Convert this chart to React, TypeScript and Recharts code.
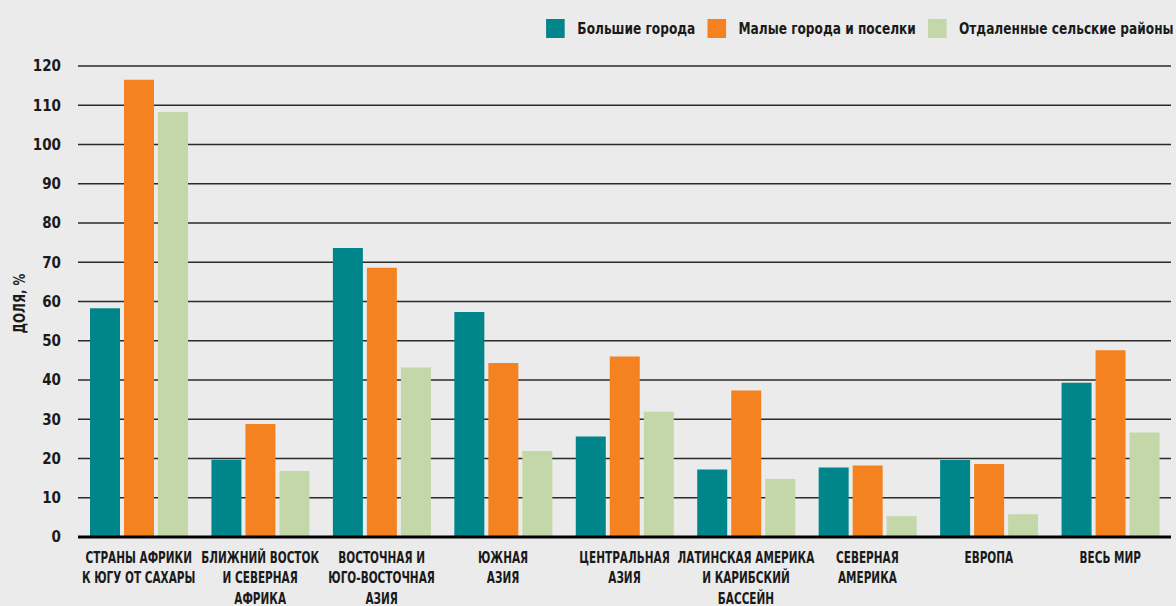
import React from 'react';
import { BarChart, Bar, XAxis, YAxis, CartesianGrid, Label } from 'recharts';

const regions = [
  'СТРАНЫ АФРИКИ\nК ЮГУ ОТ САХАРЫ',
  'БЛИЖНИЙ ВОСТОК\nИ СЕВЕРНАЯ\nАФРИКА',
  'ВОСТОЧНАЯ И\nЮГО-ВОСТОЧНАЯ\nАЗИЯ',
  'ЮЖНАЯ\nАЗИЯ',
  'ЦЕНТРАЛЬНАЯ\nАЗИЯ',
  'ЛАТИНСКАЯ АМЕРИКА\nИ КАРИБСКИЙ\nБАССЕЙН',
  'СЕВЕРНАЯ\nАМЕРИКА',
  'ЕВРОПА',
  'ВЕСЬ МИР',
];

const bigCities = [58.3, 19.7, 73.6, 57.3, 25.6, 17.2, 17.7, 19.6, 39.3];
const smallTowns = [116.5, 28.8, 68.6, 44.3, 46, 37.3, 18.2, 18.6, 47.6];
const remoteRural = [108.3, 16.8, 43.2, 21.9, 31.9, 14.8, 5.3, 5.8, 26.6];

const yTicks = [0, 10, 20, 30, 40, 50, 60, 70, 80, 90, 100, 110, 120];

const seriesNames = ['Большие города', 'Малые города и поселки', 'Отдаленные сельские районы'];
const colors = ['#00868A', '#F58220', '#C4D7A9'];

// no condensed Myriad here, so squeeze DejaVu horizontally
const FONT = '"DejaVu Sans Condensed", "DejaVu Sans", sans-serif';
const INK = '#1a1a1a';

const data = regions.map((region, i) => ({
  region,
  big: bigCities[i],
  small: smallTowns[i],
  rural: remoteRural[i],
}));

const RegionTick = (props: any) => {
  const { x, y, payload } = props;
  const lines = String(payload.value).split('\n');
  return (
    <g transform={`translate(${x},${y}) scale(0.73,1)`}>
      <text x={0} y={0} textAnchor="middle" fontFamily={FONT} fontWeight="bold" fontSize={16} fill={INK}>
        {lines.map((line, i) => (
          <tspan key={i} x={0} dy={i === 0 ? 24 : 20.5}>
            {line}
          </tspan>
        ))}
      </text>
    </g>
  );
};

const YTitle = (props: any) => {
  const vb = props.viewBox || { x: 0, y: 66, height: 471 };
  const cy = vb.y + vb.height / 2 + 2;
  return (
    <text
      transform={`translate(19,${cy}) rotate(-90) scale(0.82,1)`}
      textAnchor="middle"
      dominantBaseline="central"
      fontFamily={FONT}
      fontWeight="bold"
      fontSize={16}
      fill={INK}
    >
      ДОЛЯ, %
    </text>
  );
};

const LegendRow = () => (
  <div
    style={{
      position: 'absolute',
      top: 19,
      right: 2,
      display: 'flex',
      alignItems: 'center',
      fontFamily: FONT,
      fontWeight: 'bold',
      fontSize: 16,
      lineHeight: '19px',
      color: INK,
      transform: 'scaleX(0.845)',
      transformOrigin: 'right center',
      whiteSpace: 'nowrap',
    }}
  >
    {seriesNames.map((name, i) => (
      <div key={name} style={{ display: 'flex', alignItems: 'center', marginLeft: i === 0 ? 0 : 14 }}>
        <span style={{ width: 22, height: 19, background: colors[i], display: 'inline-block', marginRight: 15 }} />
        <span>{name}</span>
      </div>
    ))}
  </div>
);

export default function App() {
  return (
    <div style={{ position: 'fixed', left: 0, top: 0, width: 1176, height: 606, background: '#EBEBEB' }}>
      <LegendRow />
      <BarChart
        width={1176}
        height={606}
        data={data}
        margin={{ top: 66, right: 5, bottom: 0, left: 0 }}
        barSize={30}
        barGap={4}
      >
        <CartesianGrid vertical={false} stroke="#2a2a2a" strokeWidth={1.3} />
        <XAxis
          dataKey="region"
          interval={0}
          height={69}
          tickLine={false}
          tickSize={0}
          axisLine={{ stroke: '#000', strokeWidth: 3 }}
          tick={<RegionTick />}
        />
        <YAxis
          width={78}
          domain={[0, 120]}
          ticks={yTicks}
          axisLine={false}
          tickLine={false}
          tickSize={0}
          tickMargin={17}
          tick={{ fontFamily: FONT, fontWeight: 'bold', fontSize: 15, fill: INK }}
        >
          <Label content={<YTitle />} />
        </YAxis>
        <Bar dataKey="big" name={seriesNames[0]} fill={colors[0]} isAnimationActive={false} />
        <Bar dataKey="small" name={seriesNames[1]} fill={colors[1]} isAnimationActive={false} />
        <Bar dataKey="rural" name={seriesNames[2]} fill={colors[2]} isAnimationActive={false} />
      </BarChart>
    </div>
  );
}
